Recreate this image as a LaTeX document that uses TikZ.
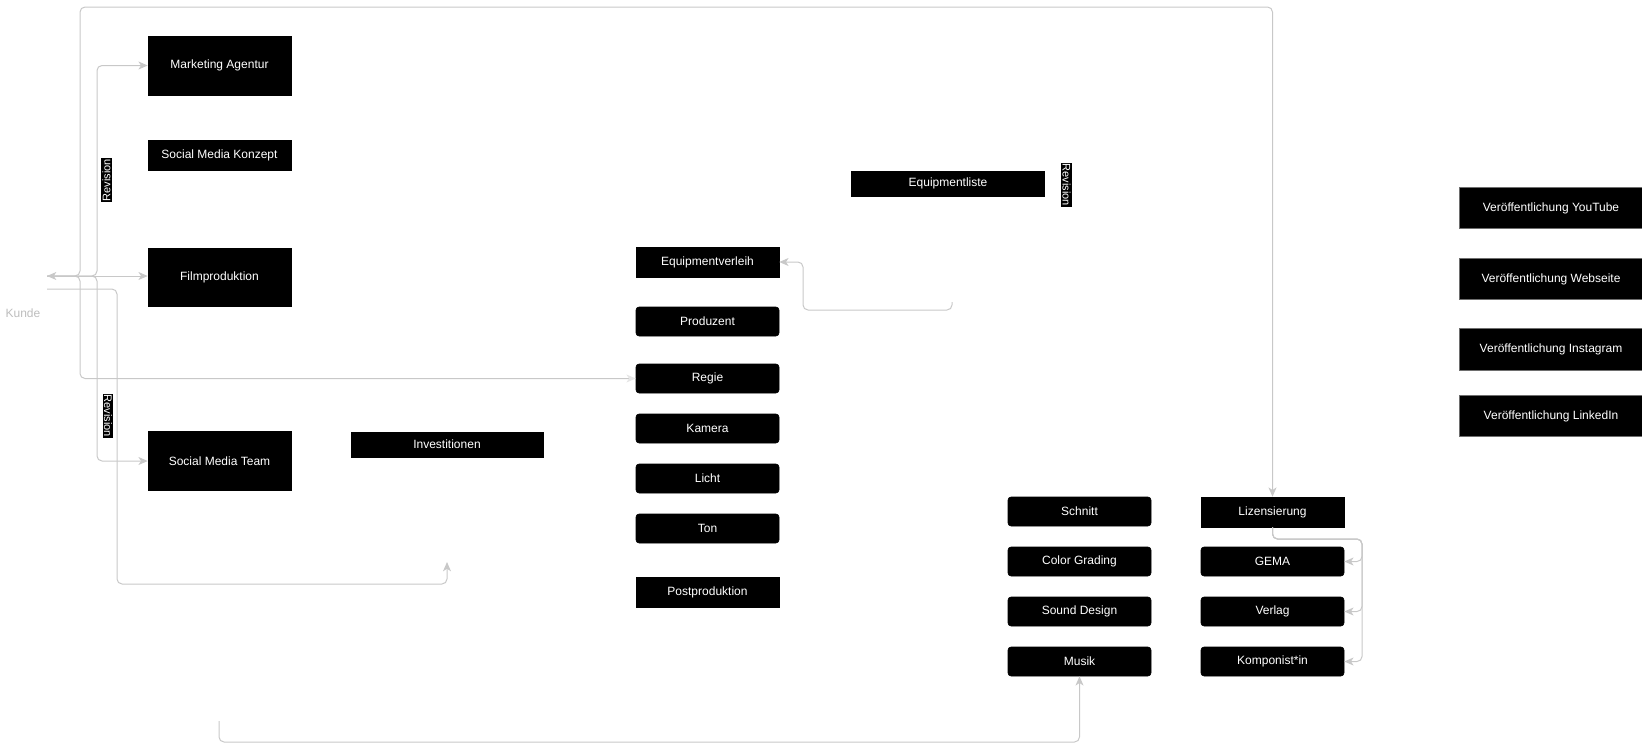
\documentclass[tikz,border=0pt]{standalone}
\usepackage{fontspec}
\setmainfont{Liberation Sans}
\usetikzlibrary{arrows.meta}
\newdimen\pxu \pxu=0.75pt
\definecolor{edgegray}{HTML}{C8C8C8}
\definecolor{kundegray}{HTML}{BDBDBD}
\definecolor{vborder}{HTML}{6E6E6E}
\tikzset{
  box/.style={fill=black, draw=black, text=white, inner sep=0pt,
    font=\fontsize{9}{11}\selectfont, minimum width=143\pxu, minimum height=29\pxu},
  rbox/.style={box, rounded corners=3\pxu},
  vbox/.style={box, draw=vborder, line width=1\pxu, minimum width=184\pxu, minimum height=41.5\pxu},
  conn/.style={draw=edgegray, line width=1\pxu, rounded corners=5\pxu,
    -{Stealth[length=7pt,width=6pt,inset=2pt]}},
  bothconn/.style={conn, {Stealth[length=7pt,width=6pt,inset=2pt]}-{Stealth[length=7pt,width=6pt,inset=2pt,color=edgegray!45]}},
  revlabel/.style={fill=black, text=white, inner sep=1pt, font=\fontsize{8.25}{10}\selectfont},
}
\begin{document}
\begin{tikzpicture}[x=0.75pt,y=-0.75pt]
\useasboundingbox (0,0) rectangle (1642,754);

% left column
\node[box, minimum height=59\pxu] (mark) at (219.5,65.5) {Marketing Agentur};
\node[box, minimum height=30\pxu] (smk) at (219.5,155) {Social Media Konzept};
\node[box, minimum height=58\pxu] (film) at (219.5,277) {Filmproduktion};
\node[box, minimum height=59\pxu] (smt) at (219.5,461) {Social Media Team};
\node[box, minimum width=192\pxu, minimum height=25\pxu] (inv) at (447,444.5) {Investitionen};

% Kunde
\node[text=kundegray, font=\fontsize{9}{11}\selectfont, inner sep=0pt] (kunde) at (23,313) {Kunde};

% middle column
\node[box, minimum width=192.5\pxu, minimum height=25\pxu] (eql) at (948,183.5) {Equipmentliste};
\node[box, minimum height=30\pxu] (eqv) at (707.5,262) {Equipmentverleih};
\node[rbox] (prod) at (707.5,321.5) {Produzent};
\node[rbox] (regie) at (707.5,378.5) {Regie};
\node[rbox] (kam) at (707.5,428.5) {Kamera};
\node[rbox] (licht) at (707.5,478.5) {Licht};
\node[rbox] (ton) at (707.5,528.5) {Ton};
\node[box, minimum height=30\pxu] (post) at (707.5,592) {Postproduktion};

% post production columns
\node[rbox] (schnitt) at (1079.5,511.5) {Schnitt};
\node[rbox] (cg) at (1079.5,561.5) {Color Grading};
\node[rbox] (sd) at (1079.5,611.5) {Sound Design};
\node[rbox] (musik) at (1079.5,661.5) {Musik};
\node[box, minimum height=30\pxu] (liz) at (1272.5,512) {Lizensierung};
\node[rbox] (gema) at (1272.5,561.5) {GEMA};
\node[rbox] (verlag) at (1272.5,611.5) {Verlag};
\node[rbox] (komp) at (1272.5,661.5) {Komponist*in};

% publication column
\node[vbox] (yt) at (1551,208) {Veröffentlichung YouTube};
\node[vbox] (web) at (1551,279) {Veröffentlichung Webseite};
\node[vbox] (insta) at (1551,349.5) {Veröffentlichung Instagram};
\node[vbox] (li) at (1551,416) {Veröffentlichung LinkedIn};

% connector end points
\coordinate (k1) at (47,276);
\coordinate (k2) at (47,289);
\coordinate (invt) at (447,562);
\coordinate (eqs) at (952,302);
\coordinate (ms) at (219,721);

% connectors
\draw[conn] (k1) -- (80,276) -- (80,7) -- (1272.5,7) -- (liz.north);
\draw[bothconn] (k1) -- (80,276) -- (80,378.5) -- (regie.west);
\draw[conn] (k1) -- (97,276) -- (97,65.5) -- (mark.west);
\draw[conn] (k1) -- (97,276) -- (97,461) -- (smt.west);
\draw[conn] (k1) -- (k1 -| film.west);
\draw[conn] (k2) -- (117,289) -- (117,584) -- (447,584) -- (invt);
\draw[conn] (eqs) -- (952,310) -- (803,310) -- (803,262) -- (eqv.east);
\draw[conn] (ms) -- (219,742) -- (1079.5,742) -- (musik.south);
\draw[conn] (liz.south) -- (1272.5,539) -- (1362,539) -- (1362,561.5) -- (gema.east);
\draw[conn] (liz.south) -- (1272.5,539) -- (1362,539) -- (1362,611.5) -- (verlag.east);
\draw[conn] (liz.south) -- (1272.5,539) -- (1362,539) -- (1362,661.5) -- (komp.east);

% revision labels
\node[revlabel, rotate=90] (rev1) at (106.5,180) {Revision};
\node[revlabel, rotate=-90] (rev2) at (108,416) {Revision};
\node[revlabel, rotate=-90] (rev3) at (1066.5,185) {Revision};
\end{tikzpicture}
\end{document}
